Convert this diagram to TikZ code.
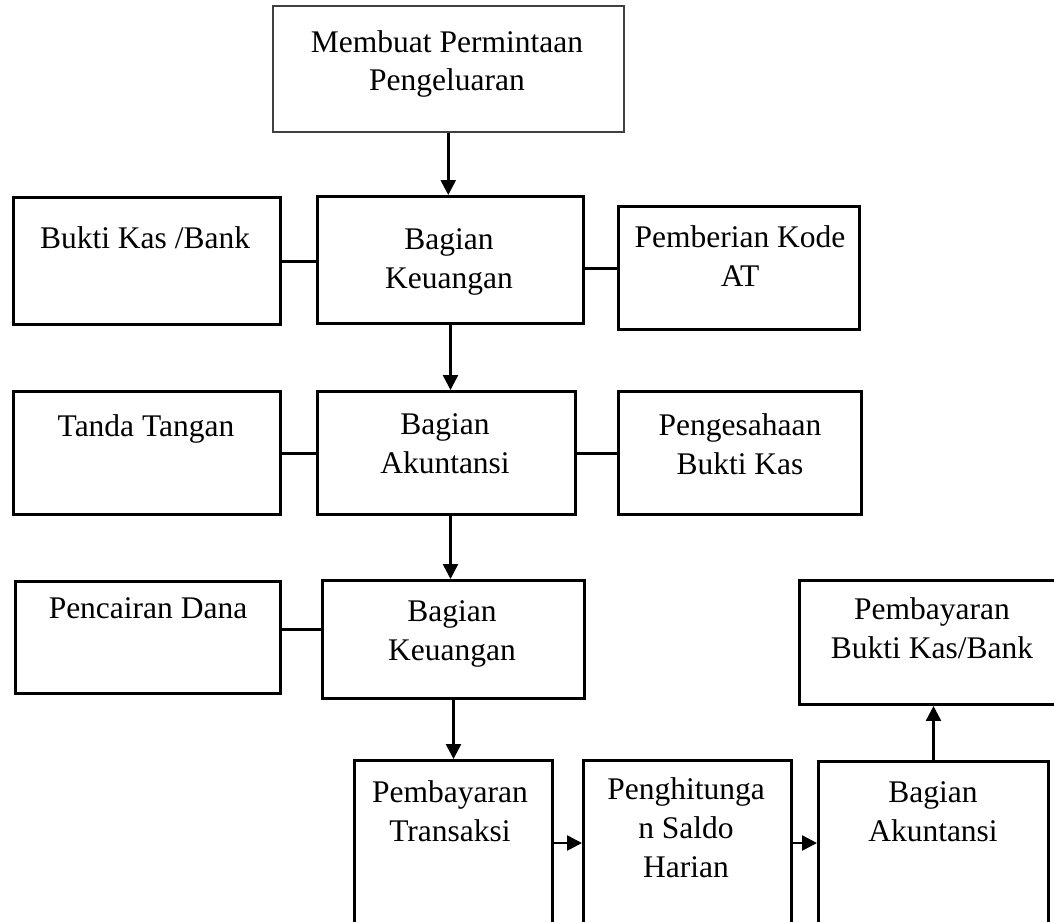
\documentclass[tikz,border=0pt]{standalone}
\usepackage{fontspec}
\setmainfont{Liberation Serif}
\usetikzlibrary{arrows.meta,positioning}
\newdimen\pxu
\pxu=0.381pt
\tikzset{
  blok/.style={draw, line width=3*\pxu, inner sep=0pt, anchor=north west},
  teks/.style={align=center, inner sep=0pt, font=\fontsize{12}{14.8}\selectfont},
  garis/.style={line width=3*\pxu},
  panah/.style={line width=2.5*\pxu, -{Triangle[length=5.7pt,width=5.7pt]}},
}
\begin{document}
\begin{tikzpicture}[x=0.381pt, y=-0.381pt]
\useasboundingbox (0,0) rectangle (1054,921);
\clip (0,0) rectangle (1054,921);
% kotak
\node[blok, draw=black!75, line width=1.5*\pxu, minimum width=351*\pxu, minimum height=126*\pxu] (minta) at (272,5) {};
\node[blok, minimum width=267*\pxu, minimum height=127*\pxu] (bukti) at (12,196) {};
\node[blok, minimum width=266*\pxu, minimum height=127*\pxu] (keu1) at (316,195) {};
\node[blok, minimum width=241*\pxu, minimum height=123*\pxu] (kode) at (617,205) {};
\node[blok, minimum width=267*\pxu, minimum height=123*\pxu] (tanda) at (12,390) {};
\node[blok, minimum width=258*\pxu, minimum height=123*\pxu] (aku1) at (316,390) {};
\node[blok, minimum width=243*\pxu, minimum height=123*\pxu] (sah) at (617,390) {};
\node[blok, minimum width=265*\pxu, minimum height=112*\pxu] (dana) at (14,580) {};
\node[blok, minimum width=262*\pxu, minimum height=118*\pxu] (keu2) at (321,579) {};
\node[blok, minimum width=198*\pxu, minimum height=180*\pxu] (bayar) at (353,759) {};
\node[blok, minimum width=208*\pxu, minimum height=180*\pxu] (hitung) at (582,759) {};
\node[blok, minimum width=230*\pxu, minimum height=180*\pxu] (aku2) at (817,760) {};
\node[blok, minimum width=270*\pxu, minimum height=124*\pxu] (bukti2) at (798,579) {};
% teks
\node[teks] (minta-t) at (447,64) {Membuat Permintaan\\Pengeluaran};
\node[teks] (bukti-t) at (145,238) {Bukti Kas /Bank};
\node[teks] (keu1-t) at (449,262) {Bagian\\Keuangan};
\node[teks] (kode-t) at (740,256) {Pemberian Kode\\AT};
\node[teks] (tanda-t) at (146,429) {Tanda Tangan};
\node[teks] (aku1-t) at (445,444) {Bagian\\Akuntansi};
\node[teks] (sah-t) at (740,444) {Pengesahaan\\Bukti Kas};
\node[teks] (dana-t) at (148,608) {Pencairan Dana};
\node[teks] (keu2-t) at (452,634) {Bagian\\Keuangan};
\node[teks] (bayar-t) at (450,811) {Pembayaran\\Transaksi};
\node[teks] (hitung-t) at (686,828) {Penghitunga\\n Saldo\\Harian};
\node[teks] (aku2-t) at (933,812) {Bagian\\Akuntansi};
\node[teks] (bukti2-t) at (932,628) {Pembayaran\\Bukti Kas/Bank};
% penghubung
\draw[panah] (minta.south) -- (minta.south |- keu1.north);
\draw[panah] (keu1.south) -- (keu1.south |- aku1.north);
\draw[panah] (keu1.south |- aku1.south) -- (keu1.south |- keu2.north);
\draw[panah] (keu2.south) -- (keu2.south |- bayar.north);
\draw[garis] (bukti.east) -- (bukti.east -| keu1.west);
\draw[garis] (kode.west) -- (kode.west -| keu1.east);
\draw[garis] (tanda.east) -- (tanda.east -| aku1.west);
\draw[garis] (sah.west) -- (sah.west -| aku1.east);
\draw[garis] ([yshift=8*\pxu]dana.east) -- ([yshift=8*\pxu]dana.east -| keu2.west);
\coordinate (baris) at (0,843);
\draw[panah] (bayar.east |- baris) -- (hitung.west |- baris);
\draw[panah] (hitung.east |- baris) -- (aku2.west |- baris);
\draw[panah] (aku2.north) -- (aku2.north |- bukti2.south);
\end{tikzpicture}
\end{document}
